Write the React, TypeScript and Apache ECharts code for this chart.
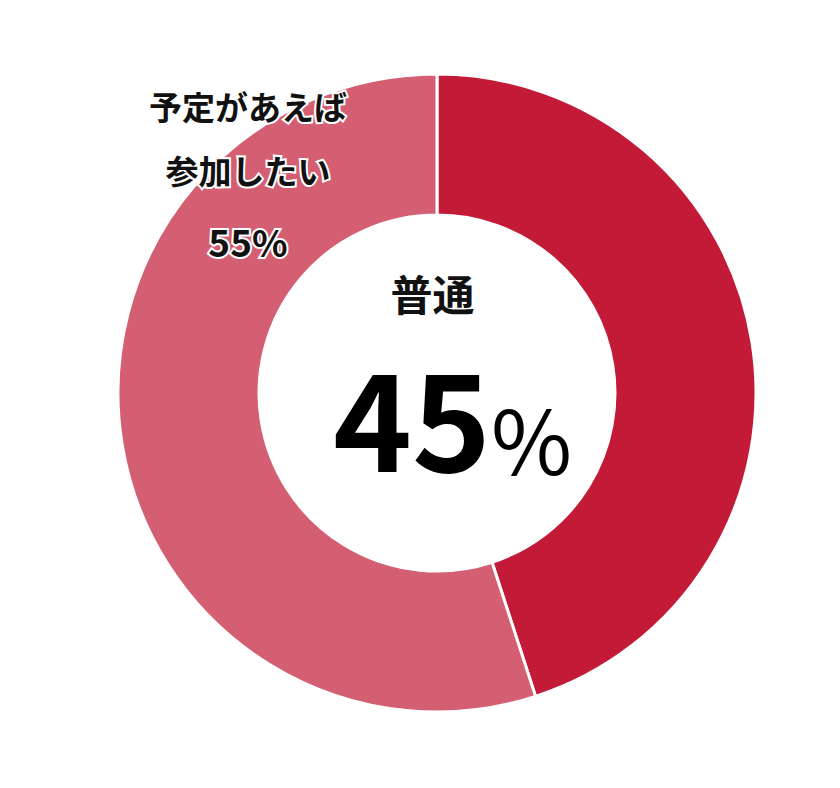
import { useEffect, useRef } from 'react';
import * as echarts from 'echarts';

// answer shares, clockwise from 12 o'clock
const answerNames = ['普通', '予定があえば参加したい'];
const answerValues = [45, 55];
const sliceColors = ['#C21A37', '#D55F72'];
// outside label of the big slice, line by line
const otherLabelLines = ['予定があえば', '参加したい'];

const FONT = '"Noto Sans CJK JP", "Noto Sans", sans-serif';

export default function App() {
  const chartRef = useRef<HTMLDivElement>(null);

  useEffect(() => {
    if (!chartRef.current) {
      return;
    }
    const chart = echarts.init(chartRef.current, undefined, { renderer: 'svg' });

    const haloText = (text: string, y: number, size: number) => ({
      type: 'text',
      z: 100,
      style: {
        text,
        x: 248,
        y,
        textAlign: 'center',
        textVerticalAlign: 'middle',
        font: `bold ${size}px ${FONT}`,
        fill: '#111111',
        stroke: '#ffffff',
        lineWidth: 4,
      },
    });

    const option = {
      animation: false,
      backgroundColor: '#ffffff',
      series: [
        {
          type: 'pie',
          center: [437, 393],
          radius: [178, 319],
          startAngle: 90,
          clockwise: true,
          label: { show: false },
          labelLine: { show: false },
          itemStyle: {
            borderColor: '#ffffff',
            borderWidth: 3,
          },
          data: answerNames.map((name, i) => ({
            name,
            value: answerValues[i],
            itemStyle: { color: sliceColors[i] },
          })),
        },
      ],
      graphic: [
        // label of the light slice, top-left
        ...otherLabelLines.map((line, i) => haloText(line, 106 + i * 64, 33)),
        haloText(`${answerValues[1]}%`, 241, 37),
        // centre label: name on top, big share below
        {
          type: 'text',
          z: 100,
          style: {
            text: `{n|${answerNames[0]}}\n{v|${answerValues[0]}}{p|%}`,
            x: 333,
            y: 271,
            textAlign: 'left',
            textVerticalAlign: 'top',
            fill: '#000000',
            rich: {
              n: {
                fontFamily: FONT,
                fontWeight: 'bold',
                fontSize: 42,
                lineHeight: 42,
                fill: '#111111',
                align: 'center',
                padding: [0, 40, 0, 0],
              },
              v: {
                fontFamily: FONT,
                fontWeight: 'bold',
                fontSize: 134,
                lineHeight: 202,
                fill: '#000000',
                align: 'left',
              },
              p: {
                fontFamily: FONT,
                fontWeight: 'normal',
                fontSize: 88,
                lineHeight: 88,
                fill: '#000000',
                align: 'left',
                verticalAlign: 'bottom',
                padding: [0, 0, 34, 0],
              },
            },
          },
        },
      ],
    };

    chart.setOption(option);

    return () => {
      chart.dispose();
    };
  }, []);

  return (
    <div
      ref={chartRef}
      style={{ position: 'absolute', left: 0, top: 0, width: '840px', height: '788px' }}
    />
  );
}
